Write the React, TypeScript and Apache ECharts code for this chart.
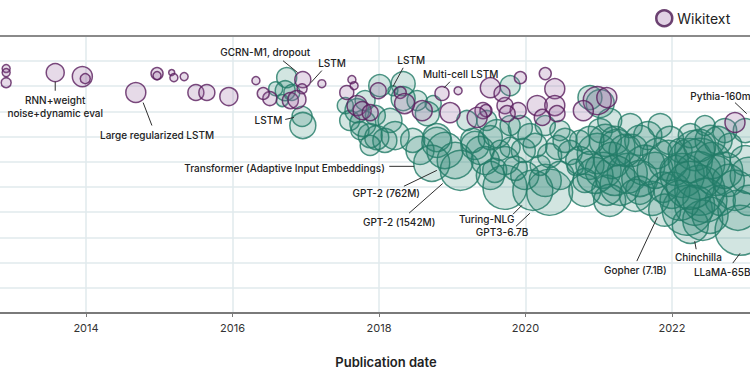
import { useEffect, useRef } from "react";
import * as echarts from "echarts";

// [publication year, perplexity level (grid units), model size]
const wikitext: number[][] = [
  [2012.91, 9.7, 4], [2012.91, 9.54, 4], [2012.91, 9.14, 5],
  [2013.58, 9.54, 9], [2013.95, 9.38, 10], [2013.99, 9.3, 5],
  [2014.68, 8.75, 10], [2014.97, 9.5, 6], [2014.97, 9.42, 4],
  [2015.17, 9.54, 3], [2015.2, 9.34, 4], [2015.34, 9.38, 4],
  [2015.5, 8.75, 8], [2015.65, 8.75, 8], [2015.95, 8.59, 9],
  [2016.32, 9.22, 4], [2017.22, 9.1, 4], [2016.51, 8.51, 7],
  [2016.42, 8.71, 6], [2016.79, 8.43, 8], [2016.96, 9.26, 8],
  [2016.95, 8.9, 5], [2016.88, 8.47, 9], [2017.56, 8.75, 7],
  [2017.63, 9.26, 4], [2017.66, 9.02, 4], [2017.7, 8.23, 10],
  [2017.77, 8.03, 9], [2017.99, 8.82, 8], [2018.29, 8.75, 6],
  [2018.86, 8.71, 7], [2019.08, 8.82, 4], [2018.59, 8.03, 10],
  [2018.97, 7.95, 10], [2019.42, 8.03, 8], [2019.52, 8.94, 10],
  [2019.72, 8.23, 8], [2019.46, 8.03, 6], [2019.34, 7.76, 10],
  [2017.88, 7.95, 8], [2018.35, 8.31, 10], [2019.93, 9.34, 6],
  [2020.27, 9.5, 6], [2020.4, 8.9, 10], [2019.68, 8.71, 8],
  [2020.16, 8.23, 10], [2020.4, 8.23, 10], [2020.43, 7.91, 8],
  [2020.23, 7.76, 8], [2019.9, 8.03, 8], [2019.75, 7.91, 8],
  [2020.98, 8.43, 14], [2020.79, 8.03, 10], [2021.11, 8.55, 10],
  [2022.86, 7.56, 10],
];

const otherBenchmarks: number[][] = [
  [2016.74, 9.34, 10], [2016.72, 8.82, 10], [2016.59, 8.9, 7],
  [2016.81, 8.75, 8], [2016.95, 7.8, 10], [2016.96, 7.44, 13],
  [2016.68, 8.43, 6], [2017.54, 8.23, 8], [2017.6, 7.64, 10],
  [2017.7, 8.03, 12], [2017.78, 7.52, 13], [2017.74, 7.24, 9],
  [2017.81, 8.43, 10], [2017.88, 7.04, 12], [2017.95, 7.84, 10],
  [2017.88, 6.65, 10], [2018.08, 6.85, 12], [2018.01, 9.02, 11],
  [2018.33, 9.1, 12], [2018.33, 8.51, 12], [2018.52, 8.43, 10],
  [2018.66, 7.91, 12], [2018.74, 8.31, 8], [2018.15, 7.64, 12],
  [2017.97, 6.96, 12], [2018.22, 7.04, 14], [2018.46, 6.85, 12],
  [2018.56, 6.45, 14], [2018.79, 6.96, 14], [2018.79, 6.77, 15],
  [2018.19, 8.82, 5], [2018.9, 6.45, 18], [2019.04, 6.05, 18],
  [2018.72, 5.94, 18], [2019.11, 5.66, 20], [2019.31, 6.65, 14],
  [2019.2, 7.64, 10], [2019.28, 6.85, 12], [2019.47, 7.64, 10],
  [2019.61, 7.12, 14], [2019.52, 6.96, 12], [2019.45, 6.05, 14],
  [2019.65, 6.45, 10], [2019.58, 5.66, 12], [2019.79, 9.02, 10],
  [2019.93, 7.36, 12], [2019.79, 6.57, 10], [2019.97, 6.45, 12],
  [2020.13, 6.65, 12], [2020.33, 6.25, 12], [2020.44, 6.57, 12],
  [2020.61, 6.37, 12], [2020.68, 5.78, 8], [2019.72, 4.99, 22],
  [2020.1, 4.87, 20], [2020.33, 4.79, 23], [2019.86, 5.74, 12],
  [2020.2, 5.86, 10], [2020.47, 7.24, 10], [2020.27, 7.44, 10],
  [2020.88, 8.55, 12], [2021.02, 8.31, 14], [2020.98, 6.33, 20],
  [2021.06, 5.66, 18], [2021.11, 4.87, 15], [2020.88, 5.86, 14],
  [2020.74, 6.85, 10], [2021.02, 7.24, 12], [2021.22, 6.85, 14],
  [2020.81, 5.26, 12], [2021.15, 7.64, 12], [2021.25, 6.57, 18],
  [2021.39, 5.54, 20], [2021.56, 6.85, 15], [2021.8, 6.33, 15],
  [2021.88, 4.99, 15], [2021.63, 5.86, 20], [2021.43, 7.44, 12],
  [2021.84, 7.44, 12], [2021.97, 6.85, 14], [2021.73, 4.55, 17],
  [2022.04, 5.66, 15], [2022.11, 6.45, 12], [2021.56, 4.87, 14],
  [2022.38, 5.94, 25], [2022.38, 4.87, 25], [2022.21, 4.08, 25],
  [2022.42, 3.68, 20], [2022.31, 6.45, 20], [2022.52, 6.85, 15],
  [2022.25, 7.04, 12], [2022.59, 5.46, 20], [2022.66, 4.47, 15],
  [2022.45, 7.44, 10], [2022.25, 3.48, 18], [2022.93, 3.28, 25],
  [2022.86, 4.87, 20], [2023.0, 6.05, 15], [2022.79, 6.65, 12],
  [2023.04, 4.47, 15], [2022.72, 7.24, 12], [2023.0, 7.24, 12],
  [2021.09, 6.85, 16], [2021.18, 6.05, 18], [2021.29, 5.07, 20],
  [2021.45, 6.45, 16], [2021.56, 5.34, 18], [2021.67, 7.04, 14],
  [2021.77, 5.66, 18], [2021.95, 6.05, 20], [2022.0, 4.87, 18],
  [2022.14, 5.46, 22], [2022.25, 6.05, 22], [2022.36, 5.46, 24],
  [2022.45, 4.47, 22], [2022.55, 6.05, 18], [2022.31, 4.27, 20],
  [2022.11, 4.47, 20], [2021.9, 4.08, 16], [2022.52, 3.88, 18],
  [2022.72, 5.66, 18], [2022.63, 6.85, 14], [2022.25, 5.07, 24],
  [2022.38, 6.65, 16],
  [2019.38, 6.45, 14], [2019.52, 5.46, 14], [2019.72, 6.05, 14],
  [2019.99, 5.46, 14], [2020.27, 5.26, 16], [2020.47, 5.46, 14],
  [2020.54, 6.85, 12], [2020.06, 7.04, 12], [2019.79, 7.44, 10],
  [2020.74, 6.05, 14], [2020.88, 6.85, 14],
  [2022.9, 4.08, 20], [2022.77, 5.26, 16], [2023.04, 5.46, 18],
  [2020.81, 4.87, 16], [2020.95, 5.46, 18], [2021.15, 4.47, 16],
  [2021.36, 6.45, 16], [2021.22, 5.46, 20], [2021.5, 4.67, 16],
];

const xTickYears = [2014, 2016, 2018, 2020, 2022];
const xVisibleRange = [2012.826, 2023.065];

type Note = {
  text: string;
  at: number[];
  align: "left" | "right" | "center";
  from: number[];
  to: number[];
};

const notes: Note[] = [
  { text: "GCRN-M1, dropout", at: [2017.06, 10.37], align: "right", from: [2016.69, 10.01], to: [2016.89, 9.54] },
  { text: "LSTM", at: [2017.17, 9.93], align: "left", from: [2017.22, 9.62], to: [2017.07, 9.14] },
  { text: "LSTM", at: [2018.25, 10.05], align: "left", from: [2018.33, 9.73], to: [2018.19, 8.98] },
  { text: "Multi-cell LSTM", at: [2018.6, 9.5], align: "left", from: [2018.97, 9.18], to: [2018.89, 8.94] },
  { text: "LSTM", at: [2016.68, 7.64], align: "right", from: [2016.72, 7.68], to: [2016.84, 7.76] },
  { text: "RNN+weight\nnoise+dynamic eval", at: [2013.58, 8.21], align: "center", from: [2013.58, 9.18], to: [2013.58, 8.82] },
  { text: "Large regularized LSTM", at: [2014.97, 7.08], align: "center", from: [2014.78, 8.35], to: [2014.9, 7.44] },
  { text: "Transformer (Adaptive Input Embeddings)", at: [2018.08, 5.74], align: "right", from: [2018.14, 5.82], to: [2018.48, 5.82] },
  { text: "GPT-2 (762M)", at: [2018.56, 4.75], align: "right", from: [2018.34, 5.03], to: [2018.79, 5.66] },
  { text: "GPT-2 (1542M)", at: [2018.77, 3.6], align: "right", from: [2018.41, 3.96], to: [2018.87, 5.14] },
  { text: "Turing-NLG", at: [2019.47, 3.72], align: "center", from: [2019.83, 3.92], to: [2019.95, 4.27] },
  { text: "GPT3-6.7B", at: [2019.68, 3.21], align: "center", from: [2019.87, 3.44], to: [2020.06, 3.96] },
  { text: "Gopher (7.1B)", at: [2021.5, 1.7], align: "center", from: [2021.52, 2.06], to: [2021.8, 3.8] },
  { text: "Chinchilla", at: [2022.36, 2.22], align: "center", from: [2022.33, 2.53], to: [2022.31, 2.85] },
  { text: "LLaMA-65B", at: [2022.3, 1.62], align: "left", from: [2022.83, 1.98], to: [2022.93, 2.37] },
  { text: "Pythia-160m", at: [2022.25, 8.63], align: "left", from: [2022.86, 8.35], to: [2023.02, 7.91] },
];

const FONT = "Inter, 'Noto Sans', sans-serif";

export default function App() {
  const ref = useRef<HTMLDivElement>(null);

  useEffect(() => {
    const chart = echarts.init(ref.current!, null, { renderer: "svg" });
    const xRange = { min: xVisibleRange[0], max: xVisibleRange[1] };
    chart.setOption({
      animation: false,
      backgroundColor: "#ffffff",
      grid: { left: 0, right: 0, top: 35.8, bottom: 62 },
      legend: {
        left: 650,
        top: 4,
        itemWidth: 16,
        itemHeight: 16,
        itemGap: 20,
        textStyle: { fontSize: 14, color: "#222", fontFamily: FONT },
        data: [
          {
            name: "Wikitext",
            icon: "circle",
            itemStyle: { color: "#d9c7dd", borderColor: "#4a1650", borderWidth: 2.5 },
          },
        ],
      },
      xAxis: [
        {
          type: "value",
          ...xRange,
          axisLine: { show: true, lineStyle: { color: "#7a7a7a", width: 2 } },
          axisTick: {
            show: true,
            length: 4,
            customValues: xTickYears,
            lineStyle: { color: "#7a7a7a" },
          },
          axisLabel: {
            show: true,
            fontSize: 11,
            color: "#333",
            margin: 9,
            fontFamily: FONT,
            customValues: xTickYears,
            formatter: (v: number) => String(v),
          },
          splitLine: { show: true, lineStyle: { color: "#e0eaed", width: 1.5 } },
        },
        {
          type: "value",
          position: "top",
          ...xRange,
          axisLine: { show: true, onZero: false, lineStyle: { color: "#8a8a8a", width: 2 } },
          axisTick: { show: false },
          axisLabel: { show: false },
          splitLine: { show: false },
        },
      ],
      yAxis: {
        type: "value",
        min: 0,
        max: 11,
        interval: 1,
        axisLine: { show: false },
        axisTick: { show: false },
        axisLabel: { show: false },
        splitLine: { show: true, lineStyle: { color: "#e0eaed", width: 1.5 } },
      },
      series: [
        {
          name: "Other benchmarks",
          type: "scatter",
          data: otherBenchmarks,
          symbol: "circle",
          symbolSize: (v: number[]) => v[2] * 2,
          itemStyle: {
            color: "rgba(38,132,112,0.26)",
            borderColor: "#227a67",
            borderWidth: 1.5,
          },
          z: 2,
        },
        {
          name: "Wikitext",
          type: "scatter",
          data: wikitext,
          symbol: "circle",
          symbolSize: (v: number[]) => v[2] * 2,
          itemStyle: {
            color: "rgba(150,100,160,0.3)",
            borderColor: "#5a1e5e",
            borderWidth: 1.5,
          },
          z: 3,
        },
      ],
    });

    const toPx = (p: number[]) =>
      chart.convertToPixel({ xAxisIndex: 0, yAxisIndex: 0 }, p) as number[];
    const graphic: any[] = [];
    notes.forEach((n) => {
      const a = toPx(n.from);
      const b = toPx(n.to);
      const t = toPx(n.at);
      graphic.push({
        type: "line",
        shape: { x1: a[0], y1: a[1], x2: b[0], y2: b[1] },
        style: { stroke: "#2f2f2f", lineWidth: 1 },
        z: 100,
      });
      graphic.push({
        type: "text",
        x: t[0],
        y: t[1],
        style: {
          text: n.text,
          fill: "#222",
          fontSize: 10,
          fontWeight: 500,
          fontFamily: FONT,
          align: n.align,
          verticalAlign: "middle",
          lineHeight: 13,
        },
        z: 100,
      });
    });
    graphic.push({
      type: "text",
      x: 386,
      y: 362,
      style: {
        text: "Publication date",
        fill: "#222",
        fontSize: 13,
        fontWeight: 600,
        fontFamily: FONT,
        align: "center",
        verticalAlign: "middle",
      },
      z: 100,
    });
    chart.setOption({ graphic });

    return () => chart.dispose();
  }, []);

  return (
    <div
      ref={ref}
      style={{ position: "fixed", left: 0, top: 0, width: 750, height: 375 }}
    />
  );
}
